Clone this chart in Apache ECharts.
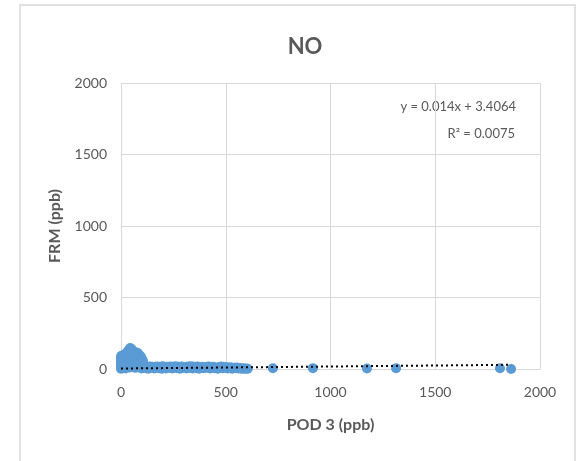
<!DOCTYPE html>
<html><head><meta charset="utf-8">
<script src="https://cdn.jsdelivr.net/npm/echarts@6/dist/echarts.min.js"></script>
<style>html,body{margin:0;padding:0;background:#fff}#c{width:577px;height:461px}</style>
</head><body><div id="c"></div>
<script>
const xTicks = [0, 500, 1000, 1500, 2000];
const yTicks = [0, 500, 1000, 1500, 2000];
const pod3 = [0,0,0,0,0,0,0,2,3,5,5,8,10,12,14,15,18,20,22,24,25,28,30,32,33,35,38,40,42,44,46,48,50,52,55,58,60,62,65,68,70,72,75,78,80,82,85,88,90,92,95,98,100,102,105,108,110,
115,120,125,130,138,145,150,158,165,172,180,188,195,200,208,215,222,230,238,245,252,260,268,275,282,290,298,305,312,320,328,335,342,350,358,365,372,380,388,395,402,410,418,425,432,440,448,455,462,470,478,485,492,500,508,515,522,530,538,545,552,560,568,575,582,590,598,605,
725,916,1174,1313,1809,1862];
const frm = [2,10,25,40,55,70,85,92,60,30,5,78,95,50,15,100,70,105,3,40,110,85,118,20,60,128,95,138,10,147,120,75,140,30,128,100,122,55,115,8,118,85,108,40,112,95,100,20,92,65,85,4,70,45,55,25,12,
18,5,14,2,17,8,16,3,12,18,6,15,2,19,10,4,16,8,18,3,13,20,6,15,2,18,9,14,3,17,7,20,4,15,10,18,2,12,16,5,14,8,17,3,12,15,6,10,2,13,18,5,11,14,4,9,12,2,8,5,10,3,7,2,6,1,4,2,
5,6,4,6,5,0];
const trendX = [0, 1862];
const trendY = [3.41, 29.48];
const eqLine1 = 'y = 0.014x + 3.4064';
const eqLine2 = 'R² = 0.0075';

const chart = echarts.init(document.getElementById('c'));
const font = 'Lato, "Open Sans", sans-serif';
const grey = '#595959';
chart.setOption({
  animation: false,
  backgroundColor: '#fff',
  title: { text: 'NO', left: 300, top: 31, textAlign: 'center',
    textStyle: { fontFamily: font, fontSize: 22, fontWeight: 'bold', color: grey } },
  grid: { left: 121, right: 37, top: 83, bottom: 92 },
  xAxis: { type: 'value', min: xTicks[0], max: xTicks[xTicks.length-1], interval: 500,
    name: 'POD 3 (ppb)', nameLocation: 'middle', nameGap: 48,
    nameTextStyle: { fontFamily: font, fontSize: 16, fontWeight: 'bold', color: grey },
    axisLine: { show: true, lineStyle: { color: '#d9d9d9', width: 1 } },
    axisTick: { show: false },
    axisLabel: { fontFamily: font, fontSize: 14, color: grey, margin: 16, formatter: v => String(v) },
    splitLine: { show: true, lineStyle: { color: '#d9d9d9', width: 1 } } },
  yAxis: { type: 'value', min: yTicks[0], max: yTicks[yTicks.length-1], interval: 500,
    name: 'FRM (ppb)', nameLocation: 'middle', nameGap: 58,
    nameTextStyle: { fontFamily: font, fontSize: 16, fontWeight: 'bold', color: grey },
    axisLine: { show: false }, axisTick: { show: false },
    axisLabel: { fontFamily: font, fontSize: 14, color: grey, margin: 14, formatter: v => String(v) },
    splitLine: { show: true, lineStyle: { color: '#d9d9d9', width: 1 } } },
  graphic: [
    { type: 'rect', shape: { x: 20, y: 5, width: 555, height: 480 }, silent: true,
      style: { fill: 'none', stroke: '#d9d9d9', lineWidth: 1.5 }, z: -1 },
    { type: 'text', x: 516, y: 100, style: { text: eqLine1, textAlign: 'right', fontFamily: font, fontSize: 13, fill: grey } },
    { type: 'text', x: 515, y: 127, style: { text: eqLine2, textAlign: 'right', fontFamily: font, fontSize: 13, fill: grey } }
  ],
  series: [
    { type: 'scatter', data: pod3.map((x, i) => [x, frm[i]]), symbolSize: 10,
      itemStyle: { color: '#5b9bd5', opacity: 1 }, z: 2 },
    { type: 'line', data: trendX.map((x, i) => [x, trendY[i]]), showSymbol: false,
      lineStyle: { color: '#000', width: 2, type: [2, 3] }, z: 3 }
  ]
});
</script></body></html>
